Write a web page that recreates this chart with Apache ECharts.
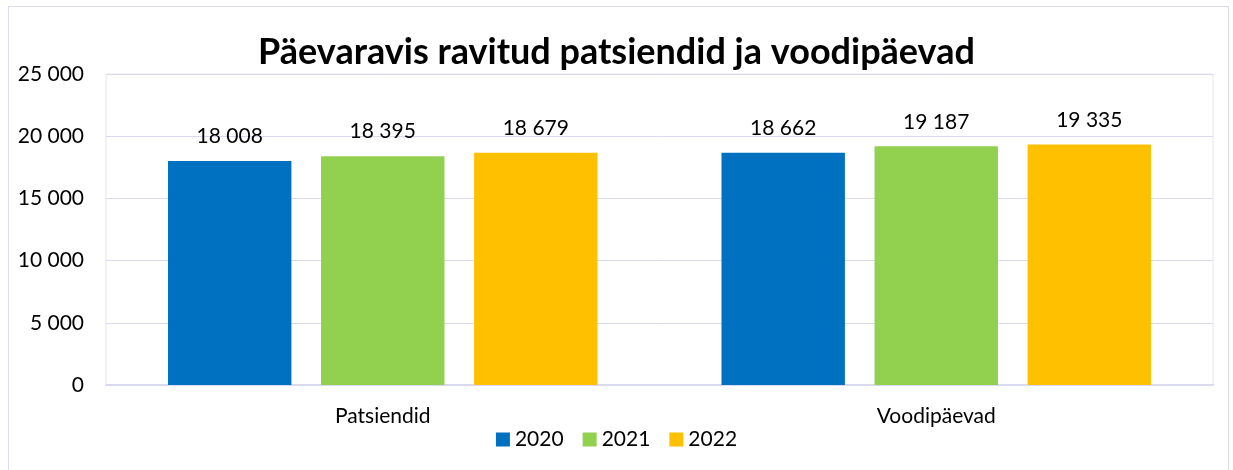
<!DOCTYPE html>
<html><head><meta charset="utf-8">
<script src="https://cdn.jsdelivr.net/npm/echarts@6/dist/echarts.min.js"></script>
<style>
html,body{margin:0;padding:0;background:#fff;}
#frame{position:absolute;left:8px;top:6px;width:1221px;height:470px;border:1px solid #d9d9ef;box-sizing:border-box;border-bottom:none;}
#c{position:absolute;left:0;top:0;width:1233px;height:470px;}
</style></head>
<body>
<div id="frame"></div>
<div id="c"></div>
<script>
const categories = ['Patsiendid', 'Voodipäevad'];
const years = ['2020', '2021', '2022'];
const v2020 = [18008, 18662];
const v2021 = [18395, 19187];
const v2022 = [18679, 19335];
const colors = ['#0070C0', '#92D050', '#FFC000'];
const font = 'Lato, "Open Sans", sans-serif';
const fmt = v => String(v).replace(/\B(?=(\d{3})+(?!\d))/g, ' ');
const chart = echarts.init(document.getElementById('c'));
const mk = (name, data, i) => ({
  name, type: 'bar', data, barWidth: '22.3%', barGap: '24%',
  itemStyle: {color: colors[i]},
  label: {show: true, position: 'top', distance: 14, formatter: p => fmt(p.value),
    fontFamily: font, fontSize: 21, color: '#000'}
});
chart.setOption({
  animation: false,
  title: {text: 'Päevaravis ravitud patsiendid ja voodipäevad', left: 'center', top: 29,
    textStyle: {fontFamily: font, fontWeight: 'bold', fontSize: 36, color: '#000'}},
  legend: {top: 424, left: 'center', itemWidth: 14, itemHeight: 14, itemGap: 19, icon: 'rect',
    textStyle: {fontFamily: font, fontSize: 21, color: '#000'}, data: years},
  grid: {left: 106, right: 20, top: 74, bottom: 85, show: true, borderColor: '#e6e6e6', borderWidth: 1},
  xAxis: {type: 'category', data: categories,
    axisLine: {lineStyle: {color: '#d9d9ef', width: 2}}, axisTick: {show: false},
    axisLabel: {fontFamily: font, fontSize: 21, color: '#000', margin: 21}},
  yAxis: {type: 'value', min: 0, max: 25000, interval: 5000,
    axisLine: {show: false}, axisTick: {show: false},
    splitLine: {lineStyle: {color: '#d9d9ef', width: 1}},
    axisLabel: {fontFamily: font, fontSize: 21, color: '#000', margin: 22, formatter: v => fmt(v)}},
  series: [mk(years[0], v2020, 0), mk(years[1], v2021, 1), mk(years[2], v2022, 2)]
});
</script>
</body></html>
